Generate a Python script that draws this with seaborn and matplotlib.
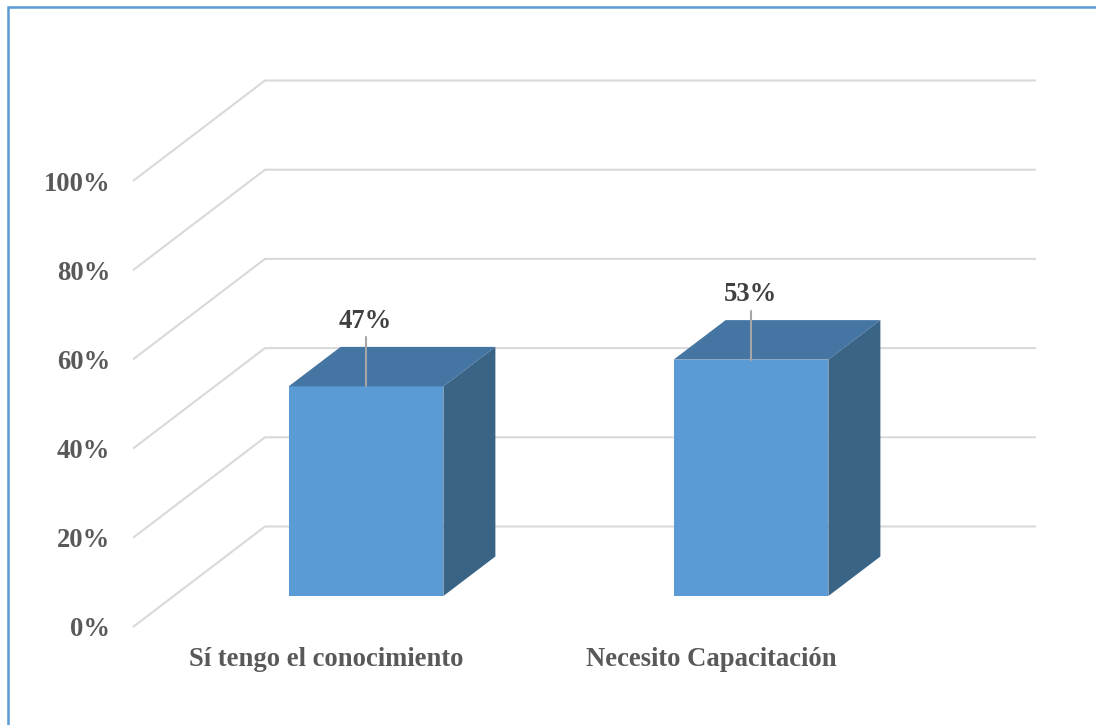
import matplotlib
matplotlib.use("Agg")
import matplotlib.pyplot as plt
import pandas as pd
import seaborn as sns

categories = ["Sí tengo el conocimiento", "Necesito Capacitación"]
values = [0.47, 0.53]
value_labels = ["47%", "53%"]
grid_levels = [0.0, 0.2, 0.4, 0.6, 0.8, 1.0]
tick_labels = ["0%", "20%", "40%", "60%", "80%", "100%"]

FRONT, SIDE, TOP = "#5B9BD5", "#3A6486", "#4575A3"
GRID, LEADER = "#D9D9D9", "#A6A6A6"
W, H = 1096, 725
PX_X, PX_Y = 385.0, 446.0    # pixels per category / per 100%
X0, Y0 = 366.0, 596.0        # pixel of category 0 / of the bar base

sns.set_theme(style="white")
plt.rcParams["font.family"] = ["Liberation Serif", "DejaVu Serif"]
plt.rcParams["font.weight"] = "bold"

df = pd.DataFrame({"cat": categories, "val": values})
fig = plt.figure(figsize=(W / 100, H / 100), dpi=100)
ax = fig.add_axes([0, 0, 1, 1])
sns.barplot(data=df, x="cat", y="val", color=FRONT, saturation=1, width=0.402,
            linewidth=0, ax=ax, zorder=3)
ax.set_xlim(-X0 / PX_X, (W - X0) / PX_X)
ax.set_ylim((Y0 - H) / PX_Y, Y0 / PX_Y)
ax.axis("off")


# oblique projection: depth in pixels along the floor diagonal
def shift(x, y, dx, dy):
    return x + dx / PX_X, y + dy / PX_Y


# floor/wall gridlines, going from the front of the axis to the back wall
for lev, lab in zip(grid_levels, tick_labels):
    x_a, y_a = shift(-0.5, lev, 133 - X0 + 0.5 * PX_X, Y0 - 627)
    x_b, y_b = shift(-0.5, lev, 265 - X0 + 0.5 * PX_X, Y0 - 526.5)
    x_c, _ = shift(-0.5, lev, 1036 - X0 + 0.5 * PX_X, 0)
    ax.plot([x_a, x_b, x_c], [y_a, y_b, y_b], color=GRID, lw=1.5, zorder=1,
            solid_capstyle="butt", solid_joinstyle="round")
    ax.text(x_a - 23 / PX_X, y_a, lab, ha="right", va="center_baseline",
            fontsize=19.2, color="#595959")

DX, DY = 52, 39.5
for i, (bar, val) in enumerate(zip(ax.patches, values)):
    l, r = bar.get_x(), bar.get_x() + bar.get_width()
    top = bar.get_height()
    rb, tb = shift(r, top, DX, DY)
    lb, _ = shift(l, top, DX, DY)
    _, bb = shift(r, 0, DX, DY)
    ax.fill([l, r, rb, lb], [top, top, tb, tb], color=TOP, lw=0, zorder=3)
    ax.fill([r, rb, rb, r], [0, bb, tb, top], color=SIDE, lw=0, zorder=3)
    ax.plot([i, i], [top, top + 49 / PX_Y], color=LEADER, lw=1.5, zorder=4)
    ax.text(i - 1 / PX_X, top + 68 / PX_Y, value_labels[i], ha="center",
            va="center_baseline", fontsize=19.2, color="#404040")
    ax.text(i - 40 / PX_X, -61 / PX_Y, categories[i], ha="center",
            va="center_baseline", fontsize=19.2, color="#595959")

# outer frame, runs off the right and bottom edges
frame = plt.Rectangle((8 / W, -0.1), 1.2, 1.1 - 7.5 / H, transform=fig.transFigure,
                      fill=False, edgecolor=FRONT, lw=1.8, clip_on=False)
fig.add_artist(frame)

fig.savefig("out.png", dpi=100)
